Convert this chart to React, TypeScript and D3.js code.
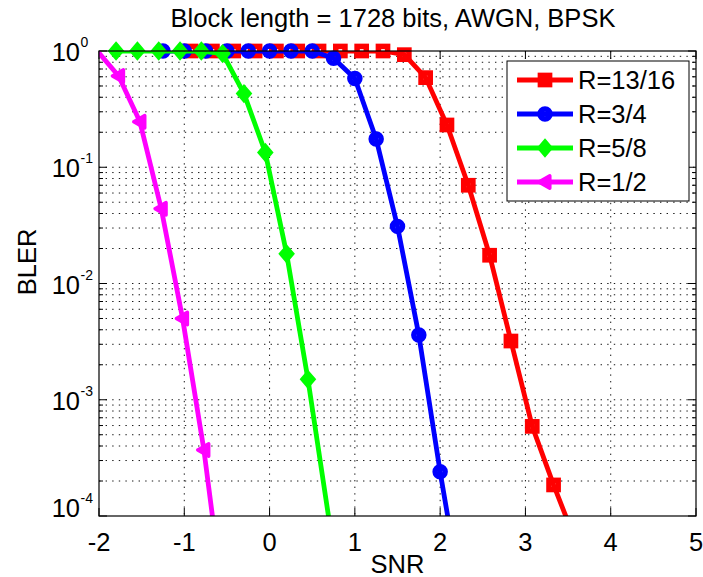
import React from "react";
import * as d3 from "d3";

const W = 703;
const H = 577;

const titleText = "Block length = 1728 bits, AWGN, BPSK";
const xLabel = "SNR";
const yLabel = "BLER";

const xTicks = [-2, -1, 0, 1, 2, 3, 4, 5];
const yDecades = [0, -1, -2, -3, -4];

const seriesNames = ["R=13/16", "R=3/4", "R=5/8", "R=1/2"];
const seriesColors = ["#ff0000", "#0000ff", "#00ff00", "#ff00ff"];
const seriesMarkers = ["square", "circle", "diamond", "triangle-left"];

const snrR = [-0.92, -0.67, -0.42, -0.17, 0.08, 0.33, 0.58, 0.83, 1.08, 1.33, 1.58, 1.83, 2.08, 2.33, 2.58, 2.83, 3.08, 3.33, 3.58];
const blerR = [1, 1, 1, 1, 1, 1, 1, 1, 1, 1, 0.93, 0.59, 0.231, 0.07, 0.0175, 0.0032, 0.00059, 0.000185, 0.000063];

const snrB = [-1.25, -1.0, -0.75, -0.5, -0.25, 0.0, 0.25, 0.5, 0.75, 1.0, 1.25, 1.5, 1.75, 2.0, 2.25];
const blerB = [1, 1, 1, 1, 1, 1, 1, 1, 0.865, 0.58, 0.175, 0.031, 0.0036, 0.00024, 0.00002];

const snrG = [-1.8, -1.55, -1.3, -1.05, -0.8, -0.55, -0.3, -0.05, 0.2, 0.45, 0.7];
const blerG = [1, 1, 1, 1, 1, 0.95, 0.43, 0.134, 0.018, 0.0015, 0.00009];

const snrM = [-2.02, -1.77, -1.52, -1.27, -1.02, -0.77, -0.52];
const blerM = [1, 0.61, 0.246, 0.044, 0.005, 0.00037, 0.000014];

const seriesX = [snrR, snrB, snrG, snrM];
const seriesY = [blerR, blerB, blerG, blerM];

const FONT = "'Liberation Sans', Arial, Helvetica, sans-serif";

const L = 99, R = 696, T = 51, B = 516;

function Marker({ kind, color, cx, cy }: { kind: string; color: string; cx: number; cy: number }) {
  const sw = 5.5;
  if (kind === "square") {
    return <rect x={cx - 4.6} y={cy - 4.6} width={9.2} height={9.2} fill="none" stroke={color} strokeWidth={sw} />;
  }
  if (kind === "circle") {
    return <circle cx={cx} cy={cy} r={5} fill="none" stroke={color} strokeWidth={sw} />;
  }
  if (kind === "diamond") {
    return (
      <path
        d={`M${cx},${cy - 7} L${cx + 6},${cy} L${cx},${cy + 7} L${cx - 6},${cy} Z`}
        fill={color}
        stroke={color}
        strokeWidth={3.5}
        strokeLinejoin="miter"
      />
    );
  }
  return (
    <path
      d={`M${cx - 6.2},${cy} L${cx + 4.8},${cy - 6.2} L${cx + 4.8},${cy + 6.2} Z`}
      fill={color}
      stroke={color}
      strokeWidth={3.5}
      strokeLinejoin="round"
    />
  );
}

export default function App() {
  const x = d3.scaleLinear().domain([-2, 5]).range([L, R]);
  const y = d3.scaleLog().domain([1e-4, 1]).range([B, T]);

  const line = d3
    .line<[number, number]>()
    .x((d) => x(d[0]))
    .y((d) => y(d[1]));

  const minor: number[] = [];
  for (let e = -4; e < 0; e++) {
    for (let k = 2; k <= 9; k++) minor.push(k * Math.pow(10, e));
  }
  const majorInner = [1e-1, 1e-2, 1e-3];
  const gridDash = "1.4,5.2";

  return (
    <svg width={W} height={H} style={{ position: "absolute", left: 0, top: 0, background: "#fff" }} fontFamily={FONT}>
      <defs>
        <clipPath id="plotclip">
          <rect x={L} y={T} width={R - L} height={B - T} />
        </clipPath>
      </defs>
      <rect x={0} y={0} width={W} height={H} fill="#fff" />

      {/* grid */}
      <g stroke="#000" strokeWidth={1} strokeDasharray={gridDash} opacity={0.9}>
        {xTicks.slice(1, -1).map((t) => (
          <line key={"gx" + t} x1={x(t)} x2={x(t)} y1={T} y2={B} />
        ))}
        {majorInner.concat(minor).map((v, i) => (
          <line key={"gy" + i} x1={L} x2={R} y1={y(v)} y2={y(v)} />
        ))}
      </g>

      {/* ticks */}
      <g stroke="#000" strokeWidth={1}>
        {xTicks.map((t) => (
          <g key={"tx" + t}>
            <line x1={x(t)} x2={x(t)} y1={B} y2={B - 8} />
            <line x1={x(t)} x2={x(t)} y1={T} y2={T + 8} />
          </g>
        ))}
        {yDecades.map((e) => (
          <g key={"ty" + e}>
            <line x1={L} x2={L + 8} y1={y(Math.pow(10, e))} y2={y(Math.pow(10, e))} />
            <line x1={R} x2={R - 8} y1={y(Math.pow(10, e))} y2={y(Math.pow(10, e))} />
          </g>
        ))}
        {minor.map((v, i) => (
          <g key={"tm" + i}>
            <line x1={L} x2={L + 4} y1={y(v)} y2={y(v)} />
            <line x1={R} x2={R - 4} y1={y(v)} y2={y(v)} />
          </g>
        ))}
      </g>

      {/* series */}
      {seriesX.map((xs, si) => {
        const pts: [number, number][] = xs.map((xv, i) => [xv, seriesY[si][i]]);
        const color = seriesColors[si];
        return (
          <g key={"s" + si}>
            <path
              d={line(pts) || ""}
              fill="none"
              stroke={color}
              strokeWidth={4.8}
              strokeLinejoin="round"
              clipPath="url(#plotclip)"
            />
            {pts
              .filter((p) => p[0] >= -2 && p[0] <= 5 && p[1] >= 1e-4 && p[1] <= 1)
              .map((p, i) => (
                <Marker key={i} kind={seriesMarkers[si]} color={color} cx={x(p[0])} cy={y(p[1])} />
              ))}
          </g>
        );
      })}

      {/* axes box */}
      <rect x={L} y={T} width={R - L} height={B - T} fill="none" stroke="#000" strokeWidth={1.2} />

      {/* x tick labels */}
      {xTicks.map((t) => (
        <text key={"lx" + t} x={x(t)} y={551} textAnchor="middle" fontSize={25.5} fill="#000">
          {t < 0 ? "-" + Math.abs(t) : String(t)}
        </text>
      ))}

      {/* y tick labels */}
      {yDecades.map((e) => {
        const yy = y(Math.pow(10, e)) + (e === -4 ? 1 : 10);
        return (
          <g key={"ly" + e}>
            <text x={80} y={yy} textAnchor="end" fontSize={25.5} fill="#000">
              10
            </text>
            <text x={80.5} y={yy - 14} textAnchor="start" fontSize={14} fill="#000">
              {e === 0 ? "0" : "-" + Math.abs(e)}
            </text>
          </g>
        );
      })}

      {/* labels */}
      <text x={393} y={27} textAnchor="middle" fontSize={25.5} fill="#000">
        {titleText}
      </text>
      <text x={397.5} y={573} textAnchor="middle" fontSize={25.5} fill="#000">
        {xLabel}
      </text>
      <text
        x={0}
        y={0}
        transform={`translate(36,262) rotate(-90)`}
        textAnchor="middle"
        fontSize={25.5}
        fill="#000"
      >
        {yLabel}
      </text>

      {/* legend */}
      <g>
        <rect x={507} y={61} width={182} height={140} fill="#fff" stroke="#000" strokeWidth={1} />
        {seriesNames.map((n, i) => {
          const cy = 80 + i * 34;
          return (
            <g key={"lg" + i}>
              <line x1={517} x2={573} y1={cy} y2={cy} stroke={seriesColors[i]} strokeWidth={4.8} />
              <Marker kind={seriesMarkers[i]} color={seriesColors[i]} cx={545} cy={cy} />
              <text x={578} y={cy + 9} fontSize={25.5} fill="#000">
                {n}
              </text>
            </g>
          );
        })}
      </g>
    </svg>
  );
}
